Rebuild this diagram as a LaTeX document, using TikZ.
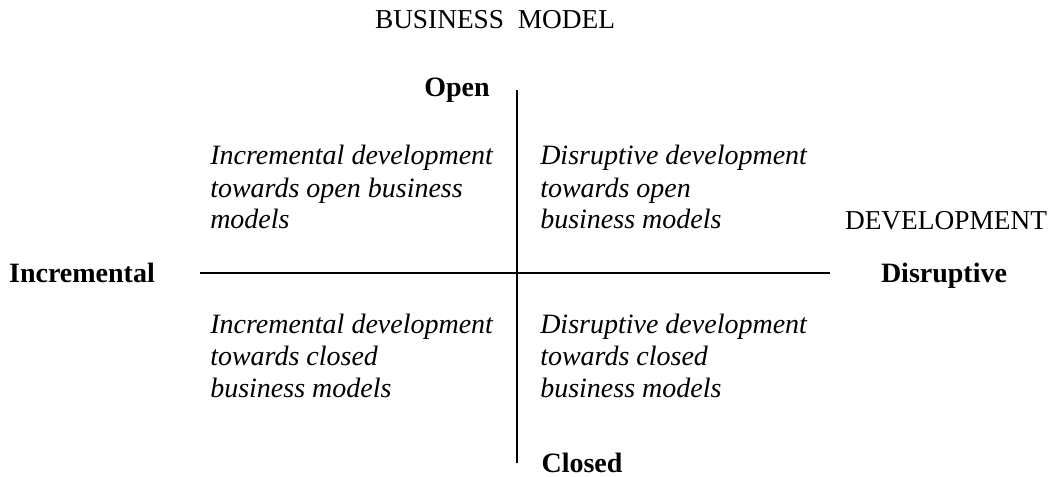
\documentclass[tikz,border=0pt]{standalone}
\usepackage{fontspec}
\setmainfont{Liberation Serif}
\begin{document}
\begin{tikzpicture}[x=0.75pt,y=-0.75pt,
  every node/.style={inner sep=0pt, anchor=base, font=\fontsize{20.5}{24}\selectfont},
  axislabel/.style={font=\fontsize{21}{24}\selectfont\bfseries},
  quadtext/.style={align=left, anchor=base west, font=\fontsize{21}{24}\selectfont\itshape},
  axis/.style={line width=1pt, black}]
  \useasboundingbox (0,0) rectangle (1049,477);
  % titles of the two dimensions
  \node (bm) at (495,29) {BUSINESS\ \ MODEL};
  \node (dev) at (946,230) {DEVELOPMENT};
  % axis end labels
  \node[axislabel] (open) at (457,97) {Open};
  \node[axislabel] (closed) at (582,472) {Closed};
  \node[axislabel] (incr) at (82,282) {Incremental};
  \node[axislabel] (disr) at (944,282) {Disruptive};
  % axes
  \coordinate (hl) at (200,273);
  \coordinate (hr) at (830,273);
  \coordinate (vt) at (517,90);
  \coordinate (vb) at (517,463);
  \draw[axis] (hl) -- (hr);
  \draw[axis] (vt) -- (vb);
  % quadrants (base anchor = baseline of the last line)
  \node[quadtext] (q1) at (210,229) {Incremental development\\towards open business\\models};
  \node[quadtext] (q2) at (540,229) {Disruptive development\\towards open\\business models};
  \node[quadtext] (q3) at (210,397) {Incremental development\\towards closed\\business models};
  \node[quadtext] (q4) at (540,397) {Disruptive development\\towards closed\\business models};
\end{tikzpicture}
\end{document}
